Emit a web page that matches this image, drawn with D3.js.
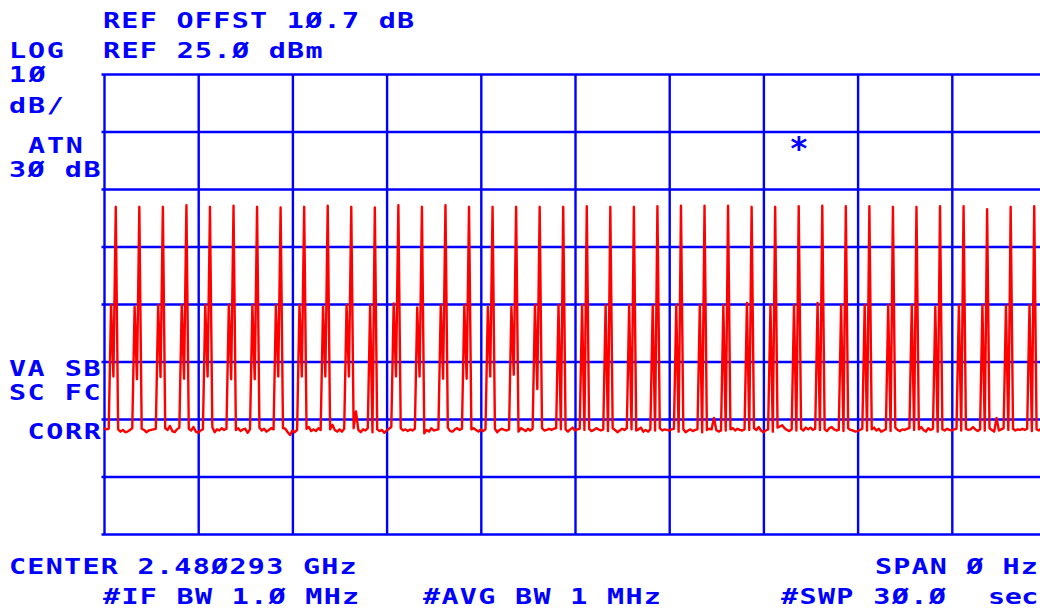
<!DOCTYPE html>
<html>
<head>
<meta charset="utf-8">
<script src="https://d3js.org/d3.v7.min.js"></script>
<style>
  body { margin: 0; background: #fff; }
  svg { display: block; }
  .lbl { font-family: "DejaVu Sans Mono", monospace; font-weight: bold; font-size: 21px; fill: #0000ff; }
</style>
</head>
<body>
<script>
// analyzer settings
const refLevel = 25;        // dBm, top of screen
const bottomLevel = -55;    // dBm, bottom of screen (8 div x 10 dB)
const sweepSeconds = 30;

// grid divisions
const gridDb = [-55, -45, -35, -25, -15, -5, 5, 15, 25];
const gridSec = [0, 3, 6, 9, 12, 15, 18, 21, 24, 27, 30];

// annotation texts
const headerText = ["REF OFFST 1Ø.7 dB", "REF 25.Ø dBm"];
const sideText = ["LOG", "1Ø", "dB/", "ATN", "3Ø dB", "VA SB", "SC FC", "CORR"];
const footerText = ["CENTER 2.48Ø293 GHz", "SPAN Ø Hz", "#IF BW 1.Ø MHz", "#AVG BW 1 MHz", "#SWP 3Ø.Ø", "sec"];
const markerText = "*";

// trace, 401 points in dBm (one row per burst)
const traceDbm = [
  -36.6,-36.8,-36.7,-15.2,-27.6,1.9,-36.8,-37.2,-36.9,-37.3,
  -37.2,-36.9,-36.6,-15.5,-28.1,1.9,-36.7,-36.9,-37.3,-37.0,
  -36.9,-36.8,-36.7,-15.2,-27.7,1.9,-36.6,-36.9,-36.2,-37.1,
  -37.3,-36.8,-36.5,-15.2,-28.0,2.2,-36.7,-37.0,-36.4,-37.2,
  -37.4,-37.0,-36.8,-15.2,-27.6,1.9,-36.4,-37.3,-36.8,-37.0,
  -36.6,-36.9,-36.7,-15.2,-28.1,2.1,-36.9,-36.6,-37.1,-36.8,
  -36.7,-37.4,-36.8,-15.2,-28.1,1.9,-36.5,-37.0,-36.7,-37.2,
  -36.9,-36.6,-36.8,-15.2,-27.6,1.8,-36.6,-36.7,-37.3,-37.8,
  -37.0,-37.3,-36.9,-15.2,-27.6,1.9,-36.7,-36.4,-37.1,-36.8,
  -37.1,-36.6,-36.9,-15.5,-27.6,2.1,-36.8,-36.0,-36.9,-37.2,
  -36.8,-37.2,-36.7,-15.2,-27.6,1.9,-36.6,-33.7,-36.9,-37.3,
  -36.8,-37.0,-36.6,-15.2,-37.3,1.8,-36.8,-37.1,-36.9,-37.4,
  -37.0,-36.7,-36.4,-14.9,-27.6,2.2,-36.6,-37.0,-36.8,-37.1,
  -36.8,-37.0,-36.7,-15.6,-27.6,1.9,-37.5,-36.9,-37.2,-36.6,
  -37.0,-36.9,-36.8,-15.2,-28.0,2.2,-36.5,-37.1,-37.2,-36.8,
  -36.6,-36.9,-36.7,-15.2,-28.0,1.9,-36.8,-36.6,-36.9,-37.2,
  -36.8,-37.1,-36.8,-15.5,-27.6,1.9,-36.7,-37.3,-36.9,-36.7,
  -36.9,-37.0,-36.8,-15.5,-27.3,1.9,-37.2,-36.6,-36.8,-37.1,
  -36.7,-37.0,-36.7,-15.2,-29.8,1.9,-36.6,-37.0,-36.9,-36.7,
  -36.9,-36.7,-36.6,-15.2,-36.8,1.9,-36.8,-37.2,-36.8,-36.5,
  -37.0,-36.8,-36.7,-15.2,-36.9,2.0,-36.7,-37.1,-36.9,-36.6,
  -36.8,-37.0,-36.8,-15.2,-37.1,1.9,-36.6,-36.9,-37.3,-37.0,
  -36.7,-36.9,-36.6,-15.2,-36.8,1.9,-37.0,-36.8,-36.5,-37.2,
  -36.9,-37.2,-36.8,-15.3,-37.0,2.0,-36.6,-37.0,-36.8,-36.9,
  -37.0,-36.8,-36.7,-15.2,-37.2,2.1,-36.8,-37.3,-37.0,-36.8,
  -37.1,-36.9,-36.8,-15.2,-37.3,2.1,-36.9,-36.7,-36.8,-34.8,
  -36.9,-37.2,-37.0,-15.2,-37.0,2.1,-36.8,-36.6,-37.0,-36.7,
  -36.9,-37.0,-36.8,-14.8,-36.9,1.9,-36.6,-36.9,-36.4,-37.0,
  -37.3,-37.0,-36.8,-15.2,-37.2,1.9,-36.5,-36.3,-36.1,-36.6,
  -36.9,-37.1,-36.8,-15.2,-37.0,2.0,-36.7,-37.0,-36.5,-36.8,
  -36.5,-36.9,-36.7,-14.8,-36.9,2.1,-36.8,-37.1,-36.6,-36.4,
  -36.8,-37.0,-36.9,-15.2,-37.1,2.0,-36.6,-36.9,-37.0,-37.2,
  -37.1,-36.9,-36.7,-15.2,-37.0,2.0,-36.8,-36.5,-37.0,-36.7,
  -37.2,-37.0,-36.8,-15.2,-37.1,1.9,-36.5,-36.9,-37.1,-36.8,
  -36.9,-36.7,-36.6,-15.2,-36.9,1.9,-36.8,-36.4,-36.9,-37.2,
  -36.6,-36.9,-36.7,-15.5,-37.2,2.0,-36.8,-37.0,-36.7,-36.9,
  -37.0,-36.8,-36.7,-15.3,-37.0,2.0,-36.7,-36.9,-36.8,-36.4,
  -36.8,-37.1,-36.8,-15.2,-37.0,1.5,-36.6,-36.9,-37.2,-34.8,
  -37.0,-36.8,-36.6,-15.3,-36.9,1.9,-36.7,-37.0,-36.8,-36.9,
  -36.7,-36.9,-36.7,-15.2,-37.1,2.0,-36.8,-37.0,-36.6,-36.9,
  -36.8
];

var W = 1040, H = 610;
var plot = {left: 104, top: 74, right: 1046, bottom: 534};
var blue = "#0000ff", red = "#ff0000";

var svg = d3.select("body").append("svg")
    .attr("width", W)
    .attr("height", H);

var x = d3.scaleLinear().domain([0, sweepSeconds]).range([plot.left, plot.right]);
var y = d3.scaleLinear().domain([bottomLevel, refLevel]).range([plot.bottom, plot.top]);
var idx = d3.scaleLinear().domain([0, traceDbm.length - 1]).range([0, sweepSeconds]);

// graticule
svg.append("g")
    .attr("transform", "translate(0," + plot.bottom + ")")
    .call(d3.axisBottom(x).tickValues(gridSec).tickSize(-(plot.bottom - plot.top)).tickFormat(""))
    .call(function(g) { g.select(".domain").remove(); });
svg.append("g")
    .attr("transform", "translate(" + (plot.left - 2.5) + ",0)")
    .call(d3.axisLeft(y).tickValues(gridDb).tickSize(-(plot.right - plot.left + 2.5)).tickFormat(""))
    .call(function(g) { g.select(".domain").remove(); });
svg.selectAll(".tick line").attr("stroke", blue).attr("stroke-width", 2.4);

// trace
var line = d3.line()
    .x(function(d, i) { return x(idx(i)); })
    .y(function(d) { return y(d); });
svg.append("path")
    .datum(traceDbm)
    .attr("d", line)
    .attr("fill", "none")
    .attr("stroke", red)
    .attr("stroke-width", 2.4)
    .attr("stroke-linejoin", "round");

// text: each char sits in one ~18.3px cell like the instrument font,
// glyphs widened to look like the HP vector font
var stretch = 1.35;
function label(t, px, py, cell) {
    cell = cell || 18.3;
    svg.append("text")
        .attr("class", "lbl")
        .attr("transform", "translate(" + px + "," + py + ") scale(" + stretch + ",1)")
        .attr("textLength", t.length * cell / stretch)
        .attr("lengthAdjust", "spacing")
        .text(t);
}

var headerPos = [[103, 27.5], [103, 58]];
headerText.forEach(function(t, i) { label(t, headerPos[i][0], headerPos[i][1]); });

var sidePos = [[9, 58], [9, 81.5], [9, 112.5], [28, 153], [9, 177], [9, 376], [9, 400], [27.5, 439]];
sideText.forEach(function(t, i) { label(t, sidePos[i][0], sidePos[i][1]); });

// last two cells are squeezed a bit so they end inside the screen edge
var footerPos = [[9, 574, 18.3], [875, 574, 18.1], [103, 604, 18.3], [423, 604, 18.3], [781, 604, 18.3], [988, 604, 16.8]];
footerText.forEach(function(t, i) { label(t, footerPos[i][0], footerPos[i][1], footerPos[i][2]); });

// marker asterisk
svg.append("text")
    .attr("class", "lbl")
    .attr("x", 799)
    .attr("y", 159)
    .attr("text-anchor", "middle")
    .style("font-size", "32px")
    .text(markerText);
</script>
</body>
</html>
